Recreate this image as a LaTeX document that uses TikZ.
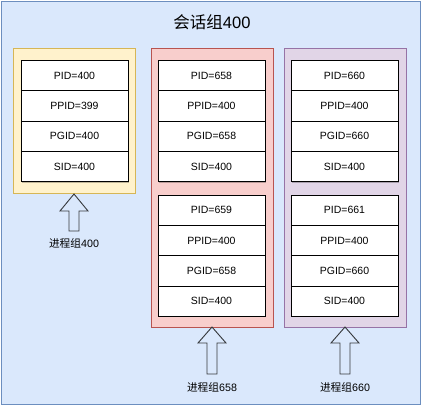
\documentclass[tikz,border=0pt]{standalone}
\usepackage{fontspec}
\setmainfont{Liberation Sans}
\newfontfamily\cjk{Noto Sans CJK SC}
\usetikzlibrary{shadows}
\definecolor{bgfill}{HTML}{DAE8FC}
\definecolor{bgline}{HTML}{6C8EBF}
\definecolor{yfill}{HTML}{FFF2CC}
\definecolor{yline}{HTML}{D6B656}
\definecolor{rfill}{HTML}{F8CECC}
\definecolor{rline}{HTML}{B85450}
\definecolor{pfill}{HTML}{E1D5E7}
\definecolor{pline}{HTML}{9673A6}
\definecolor{arrline}{HTML}{36393D}
\tikzset{
  cell/.style={rectangle, draw=black, fill=white, line width=0.8pt,
    minimum width=107pt, minimum height=30.3pt, inner sep=0pt,
    font=\fontsize{10.5}{12}\selectfont,
    drop shadow={shadow xshift=1.2pt, shadow yshift=-1.2pt, opacity=0.25, fill=black}},
  groupbox/.style={rectangle, line width=1pt, inner sep=0pt, anchor=north west},
  blockarrow/.style={draw=arrline, line width=0.9pt, fill=bgfill, line join=miter},
  glabel/.style={font=\fontsize{10.7}{12}\selectfont, inner sep=0pt}
}
\begin{document}
\begin{tikzpicture}[x=1pt,y=-1pt]
\useasboundingbox (0,0) rectangle (424,407);
% session
\draw[fill=bgfill, draw=bgline, line width=1pt] (1,1) rectangle (420,404);
\node[font=\fontsize{16.5}{18}\selectfont, inner sep=0pt] (title) at (212,22) {{\cjk 会话组}400};
% group boxes
\draw[groupbox, fill=yfill, draw=yline] (13,48) rectangle (135,193);
\draw[groupbox, fill=rfill, draw=rline] (151,48) rectangle (273,327);
\draw[groupbox, fill=pfill, draw=pline] (284,48) rectangle (406,327);
% group 400
\node[cell] (a1) at (74.5,75.5) {PID=400};
\node[cell] (a2) at (74.5,105.8) {PPID=399};
\node[cell] (a3) at (74.5,136.1) {PGID=400};
\node[cell] (a4) at (74.5,166.4) {SID=400};
% group 658
\node[cell] (b1) at (211.5,75.5) {PID=658};
\node[cell] (b2) at (211.5,105.8) {PPID=400};
\node[cell] (b3) at (211.5,136.1) {PGID=658};
\node[cell] (b4) at (211.5,166.4) {SID=400};
\node[cell] (c1) at (211.5,210.2) {PID=659};
\node[cell] (c2) at (211.5,240.5) {PPID=400};
\node[cell] (c3) at (211.5,270.8) {PGID=658};
\node[cell] (c4) at (211.5,301.1) {SID=400};
% group 660
\node[cell] (d1) at (344.5,75.5) {PID=660};
\node[cell] (d2) at (344.5,105.8) {PPID=400};
\node[cell] (d3) at (344.5,136.1) {PGID=660};
\node[cell] (d4) at (344.5,166.4) {SID=400};
\node[cell] (e1) at (344.5,210.2) {PID=661};
\node[cell] (e2) at (344.5,240.5) {PPID=400};
\node[cell] (e3) at (344.5,270.8) {PGID=660};
\node[cell] (e4) at (344.5,301.1) {SID=400};
% block arrows
\draw[blockarrow] (74,194) -- (88,211) -- (79,211) -- (79,231) -- (69,231) -- (69,211) -- (60,211) -- cycle;
\draw[blockarrow] (212,327) -- (226,343) -- (217,343) -- (217,374) -- (207,374) -- (207,343) -- (198,343) -- cycle;
\draw[blockarrow] (345,327) -- (359,343) -- (350,343) -- (350,374) -- (340,374) -- (340,343) -- (331,343) -- cycle;
% labels
\node[glabel] (l1) at (74,243) {{\cjk 进程组}400};
\node[glabel] (l2) at (212,387) {{\cjk 进程组}658};
\node[glabel] (l3) at (345,387) {{\cjk 进程组}660};
\end{tikzpicture}
\end{document}
